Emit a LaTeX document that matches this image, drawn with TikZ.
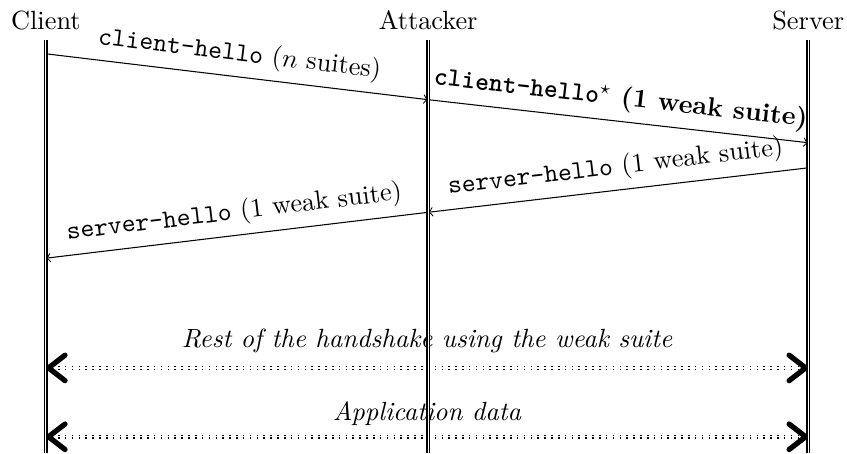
\documentclass[tikz,border=0pt]{standalone}
\usetikzlibrary{arrows.meta}
\tikzset{
  lifeline/.style = {double, double distance=0.4pt, semithick},
  msg/.style = {->},
  bulk/.style = {double, double distance=0.5pt, semithick, dotted, {Straight Barb[length=2.2mm,width=3.4mm,line width=2pt,round]}-{Straight Barb[length=2.2mm,width=3.4mm,line width=2pt,round]}},
}
\begin{document}
\begin{tikzpicture}[scale=0.957, line join=round, >=to]
				\useasboundingbox (0,0) rectangle (11.81,-6.32);
				\path
				(0.64,-0.56) coordinate (C0)
				(5.97,-0.56) coordinate (A0)
				(11.27,-0.56) coordinate (S0)
				(0.64,-6.32) coordinate (Cz)
				(5.97,-6.32) coordinate (Az)
				(11.27,-6.32) coordinate (Sz)
				(0.64,-0.75) coordinate (C1)
				(5.97,-1.39) coordinate (A1)
				(11.27,-1.99) coordinate (S1)
				(11.27,-2.34) coordinate (S2)
				(5.97,-2.96) coordinate (A2)
				(0.64,-3.60) coordinate (C2)
				(0.64,-5.13) coordinate (C3)
				(11.27,-5.13) coordinate (S3)
				(0.64,-6.09) coordinate (C4)
				(11.27,-6.09) coordinate (S4)
				;
				\node (client) at (0.64,-0.28) {Client};
				\node (attacker) at (5.97,-0.28) {Attacker};
				\node (server) at (11.27,-0.28) {Server};
				\draw[msg] (C1)--node[above, sloped] (hello1) {\texttt{client-hello} ($n$ suites)} (A1);
				\draw[msg] (A1)--node[above, sloped] (hello2) {\textbf{\texttt{client-hello}$^\star$ (1 weak suite)}} (S1);
				\draw[msg] (S2)--node[above, sloped] (reply1) {\texttt{server-hello} (1 weak suite)} (A2);
				\draw[msg] (A2)--node[above, sloped] (reply2) {\texttt{server-hello} (1 weak suite)} (C2);
				\draw[bulk] (C3)--node[above=2pt] (rest) {\textit{Rest of the handshake using the weak suite}} (S3);
				\draw[bulk] (C4)--node[above=0.6pt] (appdata) {\textit{Application data}} (S4);
				\draw[lifeline] (C0)--(Cz);
				\draw[lifeline] (A0)--(Az);
				\draw[lifeline] (S0)--(Sz);
			\end{tikzpicture}
\end{document}
